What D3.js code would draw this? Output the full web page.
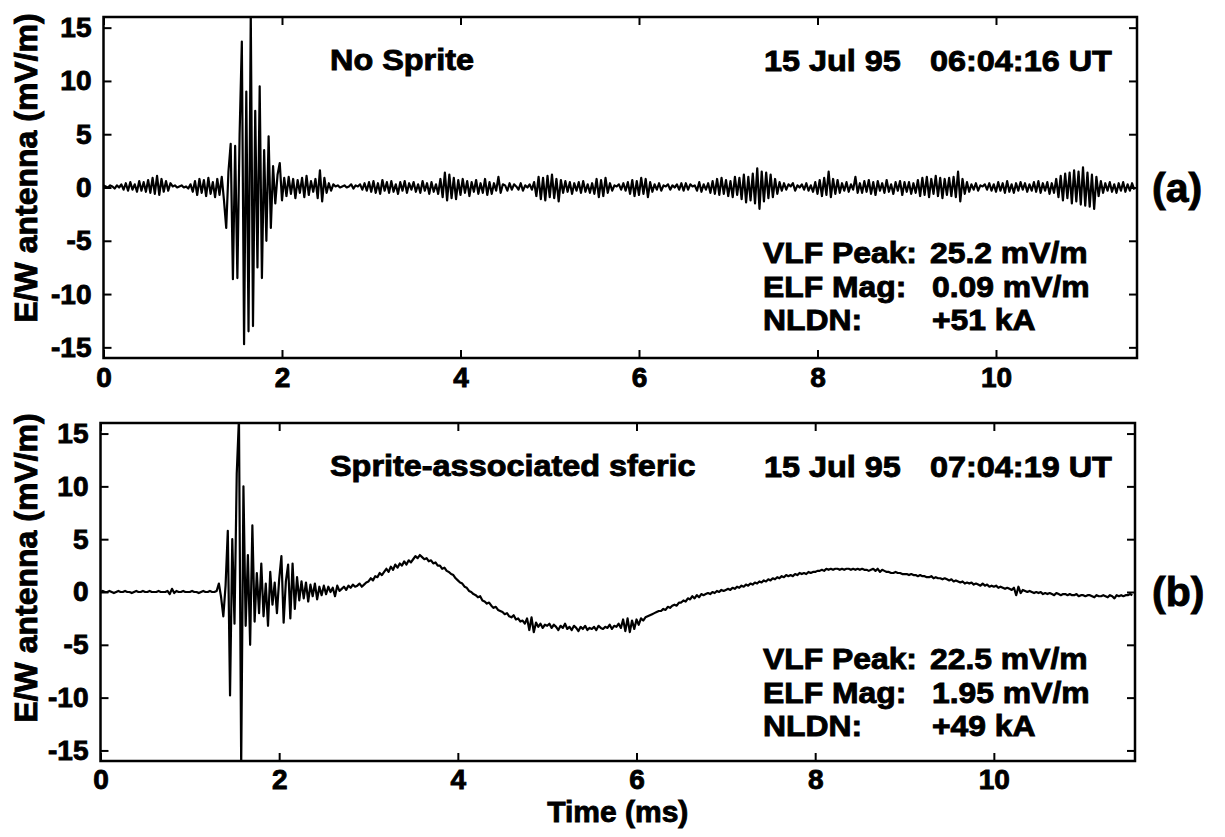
<!DOCTYPE html>
<html>
<head>
<meta charset="utf-8">
<script src="https://cdn.jsdelivr.net/npm/d3@7"></script>
<style>
  html, body { margin: 0; padding: 0; background: #fff; }
  svg { display: block; }
  text { font-family: "Liberation Sans", Arial, sans-serif; font-weight: bold; fill: #000;
         stroke: #000; stroke-width: 0.9px; paint-order: stroke; }
</style>
</head>
<body>
<svg id="chart" width="1225" height="837"></svg>
<script>
// ---------------- data ----------------
const sampleStepMs = 0.025;   // sampling interval of both records (ms)
const xTicks = [0, 2, 4, 6, 8, 10];
const yTicks = [-15, -10, -5, 0, 5, 10, 15];
const xDomain = [0, 11.58];
const yDomain = [-16, 16];

// (a) No Sprite, E/W antenna (mV/m), one value per sample
const signalA = [
  0.2,0.1,0.0,0.2,0.1,-0.1,0.2,0.0,0.3,-0.2,0.4,-0.3,0.5,-0.2,0.3,-0.4,0.6,-0.3,0.5,-0.4,
  0.7,-0.5,0.9,-0.6,1.1,-0.7,0.8,-0.4,0.6,-0.3,0.4,0.1,0.2,0.0,0.1,0.2,0.0,0.1,-0.1,0.3,
  -0.4,0.6,-0.7,0.8,-0.5,0.7,-0.8,0.9,-0.6,0.5,-0.9,0.8,-0.7,1.0,-1.2,-3.8,1.5,4.1,-8.6,3.9,
  -8.5,5.0,13.7,-14.7,9.0,-13.5,16.5,-13.0,7.2,-7.5,9.5,-8.5,3.5,-5.0,4.8,-3.8,2.0,-1.5,1.2,2.3,
  -1.2,0.9,-0.8,1.0,-0.6,0.8,-1.0,0.7,-0.5,0.9,-0.9,1.1,-0.7,0.6,-0.4,0.8,-1.0,1.6,-1.3,0.9,
  -0.5,0.4,-0.3,0.3,0.1,0.2,0.0,0.1,0.2,0.0,0.1,0.3,-0.1,0.2,0.1,0.3,-0.2,0.4,-0.3,0.5,
  -0.4,0.6,-0.5,0.4,-0.6,0.7,-0.3,0.5,-0.5,0.6,-0.4,0.3,-0.6,0.5,-0.3,0.6,-0.5,0.4,-0.2,0.5,
  -0.4,0.3,-0.5,0.6,-0.3,0.4,-0.6,0.5,-0.4,0.3,-0.6,0.8,-0.9,1.4,-1.2,1.2,-1.0,0.9,-1.1,0.7,
  -0.7,0.8,-0.5,0.6,-0.8,0.5,-0.4,0.7,-0.6,0.4,-0.5,0.8,-0.7,0.5,-0.6,0.4,-0.3,1.0,-0.5,0.3,
  0.2,-0.3,0.4,-0.2,0.3,0.1,-0.2,0.4,-0.3,0.2,0.0,0.3,-0.2,0.5,-0.8,1.0,-1.1,0.9,-1.2,1.1,
  -0.9,1.2,-1.0,0.8,-1.3,0.7,-0.5,0.6,-0.4,0.5,-0.6,0.4,-0.3,0.5,-0.5,0.6,-0.4,0.3,-0.5,0.4,
  -0.6,0.8,-0.9,0.7,-0.8,0.9,-0.5,0.4,-0.3,0.2,0.1,0.3,-0.2,0.4,-0.3,0.5,-0.6,0.7,-0.8,0.6,
  -0.7,0.9,-0.6,0.8,-0.9,0.5,-0.4,0.3,-0.2,0.4,-0.3,0.2,0.1,0.3,-0.2,0.2,0.0,0.3,-0.2,0.4,
  -0.3,0.4,-0.2,0.3,0.1,0.2,-0.3,0.5,-0.4,0.3,-0.2,0.4,-0.5,0.6,-0.6,0.8,-0.7,0.9,-0.6,0.7,
  -0.8,0.6,-0.9,1.0,-0.7,0.9,-1.1,1.2,-1.4,1.0,-1.2,1.3,-1.5,1.8,-2.0,1.5,-1.3,1.4,-1.0,1.2,
  -0.9,0.8,-0.6,0.5,-0.3,0.4,-0.2,0.3,0.1,0.4,-0.3,0.2,0.0,0.3,-0.2,0.4,-0.3,0.2,-0.4,0.5,
  -0.6,0.7,-0.8,0.9,-0.7,1.5,-0.9,0.8,-0.6,0.7,-0.5,0.4,-0.3,0.5,-0.4,0.3,-0.2,1.0,-0.5,0.4,
  -0.5,0.6,-0.4,0.7,-0.6,0.5,-0.7,0.6,-0.3,0.4,-0.5,0.7,-0.4,0.3,-0.6,0.5,-0.3,0.6,-0.7,0.5,
  -0.4,0.5,-0.6,0.4,-0.5,0.7,-0.8,0.9,-0.7,1.0,-0.9,0.8,-0.6,1.1,-0.8,0.9,-1.0,0.8,-0.7,0.9,
  -0.8,1.0,-0.9,1.5,-1.3,0.8,-0.6,0.5,-0.4,0.3,-0.2,0.4,-0.3,0.2,0.1,0.3,-0.2,0.4,-0.3,0.3,
  -0.4,0.5,-0.3,0.4,-0.5,0.6,-0.4,0.3,-0.5,0.4,-0.3,0.5,-0.2,0.4,-0.4,0.3,-0.3,0.5,-0.4,0.6,
  -0.5,0.4,-0.3,0.5,-0.6,0.4,-0.5,0.8,-0.9,1.1,-1.2,1.3,-1.0,1.4,-1.5,1.6,-1.3,1.5,-1.6,1.9,
  -1.7,1.4,-1.8,1.2,-2.0,1.0,-0.8,0.6,-0.5,0.4,-0.3,0.5,-0.4,0.3,-0.5,0.4,-0.3,0.5,-0.4,0.3,
  -0.3,0.4,-0.2
];

// (b) Sprite-associated sferic, E/W antenna (mV/m)
const signalB = [
  0.0,0.1,0.0,0.0,0.1,0.0,-0.1,0.0,0.1,0.0,0.0,0.1,0.0,0.0,-0.1,0.0,0.1,0.0,0.0,0.1,
  0.0,0.0,0.1,0.0,0.0,0.0,0.1,0.0,0.0,0.0,0.1,-0.2,0.3,-0.1,0.1,0.0,0.0,0.1,0.0,0.0,
  0.0,0.1,0.0,0.0,-0.1,0.0,0.1,0.0,0.0,0.1,0.0,0.0,0.1,0.8,-0.5,-2.3,0.6,5.8,-9.8,5.0,
  -3.0,11.2,16.5,-16.5,10.0,-3.2,3.5,-5.0,6.3,-2.8,1.8,-2.0,2.7,-2.3,0.8,-3.2,1.9,-1.2,0.9,-2.0,
  1.2,3.4,-2.9,1.0,2.6,-2.5,2.7,-1.6,1.4,-0.8,1.0,-0.6,0.9,-0.9,0.7,-0.4,0.8,-0.7,0.5,-0.3,
  0.6,-0.2,0.5,0.0,0.4,-0.4,0.6,0.1,0.3,0.5,0.2,0.6,0.4,0.7,0.5,0.6,0.8,0.5,0.7,0.9,
  1.0,1.3,1.1,1.5,1.4,1.8,1.6,1.9,2.2,1.9,2.4,2.1,2.6,2.3,2.7,2.5,2.9,2.6,3.0,2.8,
  3.1,3.4,3.2,3.5,3.3,3.1,3.2,2.9,3.0,2.7,2.8,2.5,2.5,2.2,2.3,2.0,1.9,1.7,1.6,1.3,
  1.1,0.9,0.8,0.5,0.4,0.1,0.0,-0.2,-0.3,-0.5,-0.4,-0.8,-0.9,-1.1,-1.0,-1.3,-1.5,-1.4,-1.7,-1.8,
  -1.9,-2.1,-2.0,-2.3,-2.4,-2.2,-2.6,-2.5,-2.8,-2.7,-3.0,-2.5,-3.6,-2.4,-3.8,-2.9,-3.3,-3.0,-3.4,-3.1,
  -3.2,-3.0,-3.4,-3.1,-3.3,-3.6,-3.2,-3.4,-3.0,-3.5,-3.3,-3.6,-3.2,-3.4,-3.7,-3.3,-3.5,-3.2,-3.6,-3.4,
  -3.5,-3.3,-3.6,-3.2,-3.4,-3.5,-3.3,-3.4,-3.1,-3.5,-3.2,-3.3,-3.0,-3.4,-2.6,-3.7,-2.5,-3.8,-2.7,-3.5,
  -2.6,-3.1,-2.5,-2.7,-2.4,-2.3,-2.2,-2.1,-2.0,-1.9,-1.8,-1.8,-1.6,-1.7,-1.4,-1.5,-1.3,-1.2,-1.3,-1.0,
  -1.0,-0.8,-0.9,-0.6,-0.7,-0.4,-0.6,-0.3,-0.5,-0.2,-0.3,-0.2,-0.1,-0.2,0.0,-0.1,0.1,0.0,0.2,0.1,
  0.2,0.3,0.2,0.4,0.3,0.5,0.4,0.6,0.5,0.7,0.6,0.8,0.7,0.9,0.8,1.0,0.9,1.1,1.0,1.2,
  1.1,1.3,1.2,1.4,1.3,1.5,1.4,1.6,1.5,1.6,1.5,1.7,1.6,1.8,1.7,1.8,1.7,1.9,1.8,1.9,
  1.9,2.0,2.0,2.1,2.0,2.2,2.1,2.2,2.1,2.2,2.2,2.1,2.2,2.1,2.2,2.2,2.1,2.2,2.1,2.2,
  2.1,2.2,2.1,2.1,2.0,2.1,2.2,2.0,2.2,1.9,2.1,2.0,1.9,1.9,1.8,1.8,1.9,1.8,1.8,1.7,
  1.7,1.7,1.6,1.7,1.6,1.6,1.5,1.6,1.5,1.5,1.4,1.4,1.5,1.3,1.4,1.3,1.3,1.2,1.3,1.2,
  1.1,1.2,1.0,1.1,1.0,0.9,1.0,0.8,0.9,0.8,0.9,0.7,0.8,0.7,0.6,0.8,0.6,0.7,0.5,0.6,
  0.5,0.6,0.4,0.5,0.4,0.3,0.4,0.3,0.2,0.4,-0.3,0.5,-0.1,0.2,0.1,0.0,0.1,0.0,-0.1,0.0,
  -0.1,0.0,-0.2,-0.1,-0.2,-0.1,-0.2,-0.3,-0.1,-0.2,-0.3,-0.2,-0.2,-0.3,-0.2,-0.3,-0.3,-0.2,-0.4,-0.3,
  -0.3,-0.4,-0.3,-0.3,-0.4,-0.5,-0.3,-0.4,-0.4,-0.3,-0.4,-0.5,-0.3,-0.4,-0.6,-0.3,-0.4,-0.3,-0.4,-0.3,
  -0.3,-0.2,-0.3
];

const yLabel = "E/W antenna (mV/m)";
const xLabel = "Time (ms)";

const panelTitles = ["No Sprite", "Sprite-associated sferic"];
const panelDates = ["15 Jul 95", "15 Jul 95"];
const panelTimes = ["06:04:16 UT", "07:04:19 UT"];
const infoKeys = ["VLF Peak:", "ELF Mag:", "NLDN:"];
const infoValuesA = ["25.2 mV/m", "0.09 mV/m", "+51 kA"];
const infoValuesB = ["22.5 mV/m", "1.95 mV/m", "+49 kA"];
const panelTags = ["(a)", "(b)"];

// ---------------- layout ----------------
const panels = [
  { signal: signalA, info: infoValuesA, left: 103.5, right: 1137, top: 17, bottom: 358,
    xPad: 9, ylabY: 168 },
  { signal: signalB, info: infoValuesB, left: 100.5, right: 1135, top: 423, bottom: 761,
    xPad: 8, ylabY: 568 }
];

const svg = d3.select("#chart");
svg.append("rect").attr("width", 1225).attr("height", 837).attr("fill", "#fff");

// text widened slightly (the original uses a broad bold face)
function wideText(parent, x, y, size, str) {
  return parent.append("text")
    .attr("transform", `translate(${x},${y}) scale(1.08,1)`)
    .attr("font-size", size)
    .text(str);
}

panels.forEach((p, k) => {
  const x = d3.scaleLinear().domain(xDomain).range([p.left, p.right]);
  const y = d3.scaleLinear().domain(yDomain).range([p.bottom, p.top]);

  const g = svg.append("g");

  const clipId = "clip" + k;
  svg.append("clipPath").attr("id", clipId)
    .append("rect")
    .attr("x", p.left).attr("y", p.top)
    .attr("width", p.right - p.left).attr("height", p.bottom - p.top);

  const pts = p.signal.map((v, i) => [i * sampleStepMs, v]);
  const line = d3.line().x(d => x(d[0])).y(d => y(d[1]));
  g.append("path")
    .attr("clip-path", `url(#${clipId})`)
    .attr("d", line(pts))
    .attr("fill", "none")
    .attr("stroke", "#000")
    .attr("stroke-width", 2.2)
    .attr("stroke-linejoin", "round");

  // axes (ticks inward)
  const fmt = d => String(d);
  const axB = g.append("g").attr("transform", `translate(0,${p.bottom})`)
    .call(d3.axisBottom(x).tickValues(xTicks).tickSize(-8).tickPadding(p.xPad).tickFormat(fmt));
  const axT = g.append("g").attr("transform", `translate(0,${p.top})`)
    .call(d3.axisTop(x).tickValues(xTicks).tickSize(-8).tickFormat(""));
  const axL = g.append("g").attr("transform", `translate(${p.left},0)`)
    .call(d3.axisLeft(y).tickValues(yTicks).tickSize(-8).tickPadding(12).tickFormat(fmt));
  const axR = g.append("g").attr("transform", `translate(${p.right},0)`)
    .call(d3.axisRight(y).tickValues(yTicks).tickSize(-8).tickFormat(""));
  [axB, axT, axL, axR].forEach(a => {
    a.select(".domain").remove();
    a.selectAll(".tick line").attr("stroke", "#000").attr("stroke-width", 2);
    a.selectAll(".tick text")
      .attr("font-family", '"Liberation Sans", Arial, sans-serif')
      .attr("font-weight", "bold")
      .attr("font-size", 28)
      .attr("fill", "#000");
  });

  // frame
  g.append("rect")
    .attr("x", p.left).attr("y", p.top)
    .attr("width", p.right - p.left).attr("height", p.bottom - p.top)
    .attr("fill", "none").attr("stroke", "#000").attr("stroke-width", 2.5);

  // y label
  g.append("text")
    .attr("transform", `translate(37,${p.ylabY}) rotate(-90)`)
    .attr("text-anchor", "middle")
    .attr("font-size", 32)
    .text(yLabel);

  // annotations
  const baseY = p.top;
  wideText(g, 330, baseY + 53, 30, panelTitles[k]);
  wideText(g, 764, baseY + 54, 30, panelDates[k]);
  wideText(g, 930, baseY + 54, 30, panelTimes[k]);

  const rowBase = [246, 279.5, 313];
  infoKeys.forEach((key, j) => {
    wideText(g, 763, baseY + rowBase[j], 29.5, key);
    wideText(g, j === 0 ? 930 : 932, baseY + rowBase[j], 29.5, p.info[j]);
  });

  g.append("text").attr("x", 1152).attr("y", y(0) + 14).attr("font-size", 41).text(panelTags[k]);
});

// x label
svg.append("text")
  .attr("x", (panels[1].left + panels[1].right) / 2)
  .attr("y", 822)
  .attr("text-anchor", "middle")
  .attr("font-size", 30)
  .text(xLabel);
</script>
</body>
</html>
